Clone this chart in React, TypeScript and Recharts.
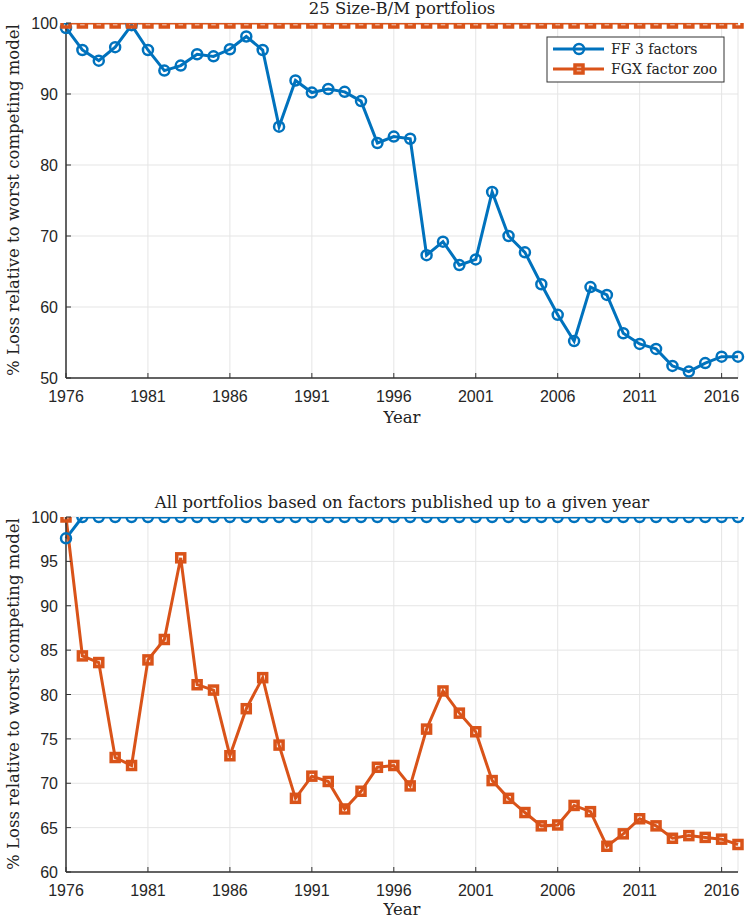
import React from 'react';
import { LineChart, Line, XAxis, YAxis, CartesianGrid } from 'recharts';

const years = [1976,1977,1978,1979,1980,1981,1982,1983,1984,1985,1986,1987,1988,1989,1990,1991,1992,1993,1994,1995,1996,1997,1998,1999,2000,2001,2002,2003,2004,2005,2006,2007,2008,2009,2010,2011,2012,2013,2014,2015,2016,2017];

const topFF3 = [99.3,96.2,94.7,96.6,99.7,96.2,93.3,94.0,95.6,95.3,96.3,98.1,96.2,85.4,91.9,90.2,90.7,90.3,89.0,83.1,84.0,83.7,67.3,69.2,65.9,66.7,76.2,70.0,67.7,63.2,58.9,55.2,62.8,61.7,56.3,54.8,54.1,51.7,50.9,52.1,53.0,53.0];
const topFGX = [100,100,100,100,100,100,100,100,100,100,100,100,100,100,100,100,100,100,100,100,100,100,100,100,100,100,100,100,100,100,100,100,100,100,100,100,100,100,100,100,100,100];

const botFF3 = [97.6,100,100,100,100,100,100,100,100,100,100,100,100,100,100,100,100,100,100,100,100,100,100,100,100,100,100,100,100,100,100,100,100,100,100,100,100,100,100,100,100,100];
const botFGX = [100,84.35,83.6,72.9,72.0,83.9,86.2,95.4,81.1,80.5,73.1,78.4,81.9,74.3,68.3,70.8,70.2,67.1,69.1,71.8,72.0,69.7,76.1,80.4,77.9,75.8,70.3,68.3,66.7,65.2,65.3,67.5,66.8,62.9,64.3,66.0,65.2,63.8,64.1,63.9,63.7,63.1];

const xTicks = [1976,1981,1986,1991,1996,2001,2006,2011,2016];
const topYTicks = [50,60,70,80,90,100];
const botYTicks = [60,65,70,75,80,85,90,95,100];

const seriesNames = ['FF 3 factors', 'FGX factor zoo'];
const titles = ['25 Size-B/M portfolios', 'All portfolios based on factors published up to a given year'];
const yLabel = '% Loss relative to worst competing model';
const xLabel = 'Year';

const BLUE = '#0072BD';
const ORANGE = '#D95319';
const AXIS = '#333333';
const TICKTXT = '#262626';
const SERIF = '"DejaVu Serif", "Liberation Serif", serif';
const SANS = '"Liberation Sans", Arial, sans-serif';

const topData = years.map((y, i) => ({ year: y, ff3: topFF3[i], fgx: topFGX[i] }));
const botData = years.map((y, i) => ({ year: y, ff3: botFF3[i], fgx: botFGX[i] }));

const X_MARGIN = 12;
const Y_MARGIN = 8;

const XTick = (props: any) => {
  const { x, y, payload } = props;
  const ay = y - X_MARGIN;
  return (
    <g>
      <line x1={x} x2={x} y1={ay} y2={ay - 5} stroke={AXIS} strokeWidth={1} />
      <text x={x} y={ay + 24} textAnchor="middle" fontFamily={SANS} fontSize={16} fill={TICKTXT}>{payload.value}</text>
    </g>
  );
};

const YTick = (props: any) => {
  const { x, y, payload } = props;
  const ax = x + Y_MARGIN;
  return (
    <g>
      <line x1={ax} x2={ax + 5} y1={y} y2={y} stroke={AXIS} strokeWidth={1} />
      <text x={x} y={y + 6} textAnchor="end" fontFamily={SANS} fontSize={16} fill={TICKTXT}>{payload.value}</text>
    </g>
  );
};

const CircleDot = (props: any) => {
  const { cx, cy, index } = props;
  if (cx == null || cy == null) return <g key={index} />;
  return <circle key={index} cx={cx} cy={cy} r={5} fill="none" stroke={BLUE} strokeWidth={2.5} />;
};

const SquareDot = (props: any) => {
  const { cx, cy, index } = props;
  if (cx == null || cy == null) return <g key={index} />;
  return <rect key={index} x={cx - 4} y={cy - 4} width={8} height={8} fill="none" stroke={ORANGE} strokeWidth={3.5} />;
};

function Panel({ data, yTicks, yDomain, height, margin }: any) {
  return (
    <LineChart width={746} height={height} data={data} margin={margin}>
      <CartesianGrid stroke="#e5e5e5" strokeWidth={1} horizontal vertical />
      <XAxis
        dataKey="year"
        type="number"
        domain={[1976, 2017]}
        ticks={xTicks}
        allowDecimals={false}
        height={30}
        tickSize={0}
        tickMargin={X_MARGIN}
        tickLine={false}
        axisLine={{ stroke: AXIS, strokeWidth: 1.5 }}
        tick={<XTick />}
        interval={0}
      />
      <YAxis
        type="number"
        domain={yDomain}
        ticks={yTicks}
        width={40}
        tickSize={0}
        tickMargin={Y_MARGIN}
        tickLine={false}
        axisLine={{ stroke: AXIS, strokeWidth: 1.5 }}
        tick={<YTick />}
        interval={0}
        allowDataOverflow
      />
      <Line dataKey="ff3" stroke={BLUE} strokeWidth={3} dot={<CircleDot />} activeDot={false} isAnimationActive={false} />
      <Line dataKey="fgx" stroke={ORANGE} strokeWidth={3} dot={<SquareDot />} activeDot={false} isAnimationActive={false} />
    </LineChart>
  );
}

export default function App() {
  return (
    <div style={{ position: 'absolute', left: 0, top: 0, width: 746, height: 919, background: '#fff' }}>
      <div style={{ position: 'absolute', left: 0, top: 0 }}>
        <Panel data={topData} yTicks={topYTicks} yDomain={[50, 100]} height={460}
          margin={{ top: 23, right: 8, left: 26, bottom: 52 }} />
      </div>
      <div style={{ position: 'absolute', left: 0, top: 470 }}>
        <Panel data={botData} yTicks={botYTicks} yDomain={[60, 100]} height={449}
          margin={{ top: 47, right: 8, left: 26, bottom: 17 }} />
      </div>
      <svg width={746} height={919} style={{ position: 'absolute', left: 0, top: 0, pointerEvents: 'none' }}>
        <text x={402} y={14} textAnchor="middle" fontFamily={SERIF} fontSize={16.5} fill="#222">{titles[0]}</text>
        <text x={402} y={508} textAnchor="middle" fontFamily={SERIF} fontSize={16.5} fill="#222">{titles[1]}</text>
        <text x={402} y={423} textAnchor="middle" fontFamily={SERIF} fontSize={16.5} fill="#222">{xLabel}</text>
        <text x={402} y={915} textAnchor="middle" fontFamily={SERIF} fontSize={16.5} fill="#222">{xLabel}</text>
        <text x={19} y={200} transform="rotate(-90 19 200)" textAnchor="middle" fontFamily={SERIF} fontSize={16.5} fill="#222">{yLabel}</text>
        <text x={19} y={694} transform="rotate(-90 19 694)" textAnchor="middle" fontFamily={SERIF} fontSize={16.5} fill="#222">{yLabel}</text>
        <g>
          <rect x={547} y={37} width={177} height={45} fill="#fff" stroke={AXIS} strokeWidth={1} />
          <line x1={553} x2={604} y1={49} y2={49} stroke={BLUE} strokeWidth={3} />
          <circle cx={579} cy={49} r={5} fill="none" stroke={BLUE} strokeWidth={2.5} />
          <text x={611} y={54} fontFamily={SERIF} fontSize={14} fill="#222">{seriesNames[0]}</text>
          <line x1={553} x2={604} y1={69} y2={69} stroke={ORANGE} strokeWidth={3} />
          <rect x={575} y={65} width={8} height={8} fill="none" stroke={ORANGE} strokeWidth={3.5} />
          <text x={611} y={74} fontFamily={SERIF} fontSize={14} fill="#222">{seriesNames[1]}</text>
        </g>
      </svg>
    </div>
  );
}
